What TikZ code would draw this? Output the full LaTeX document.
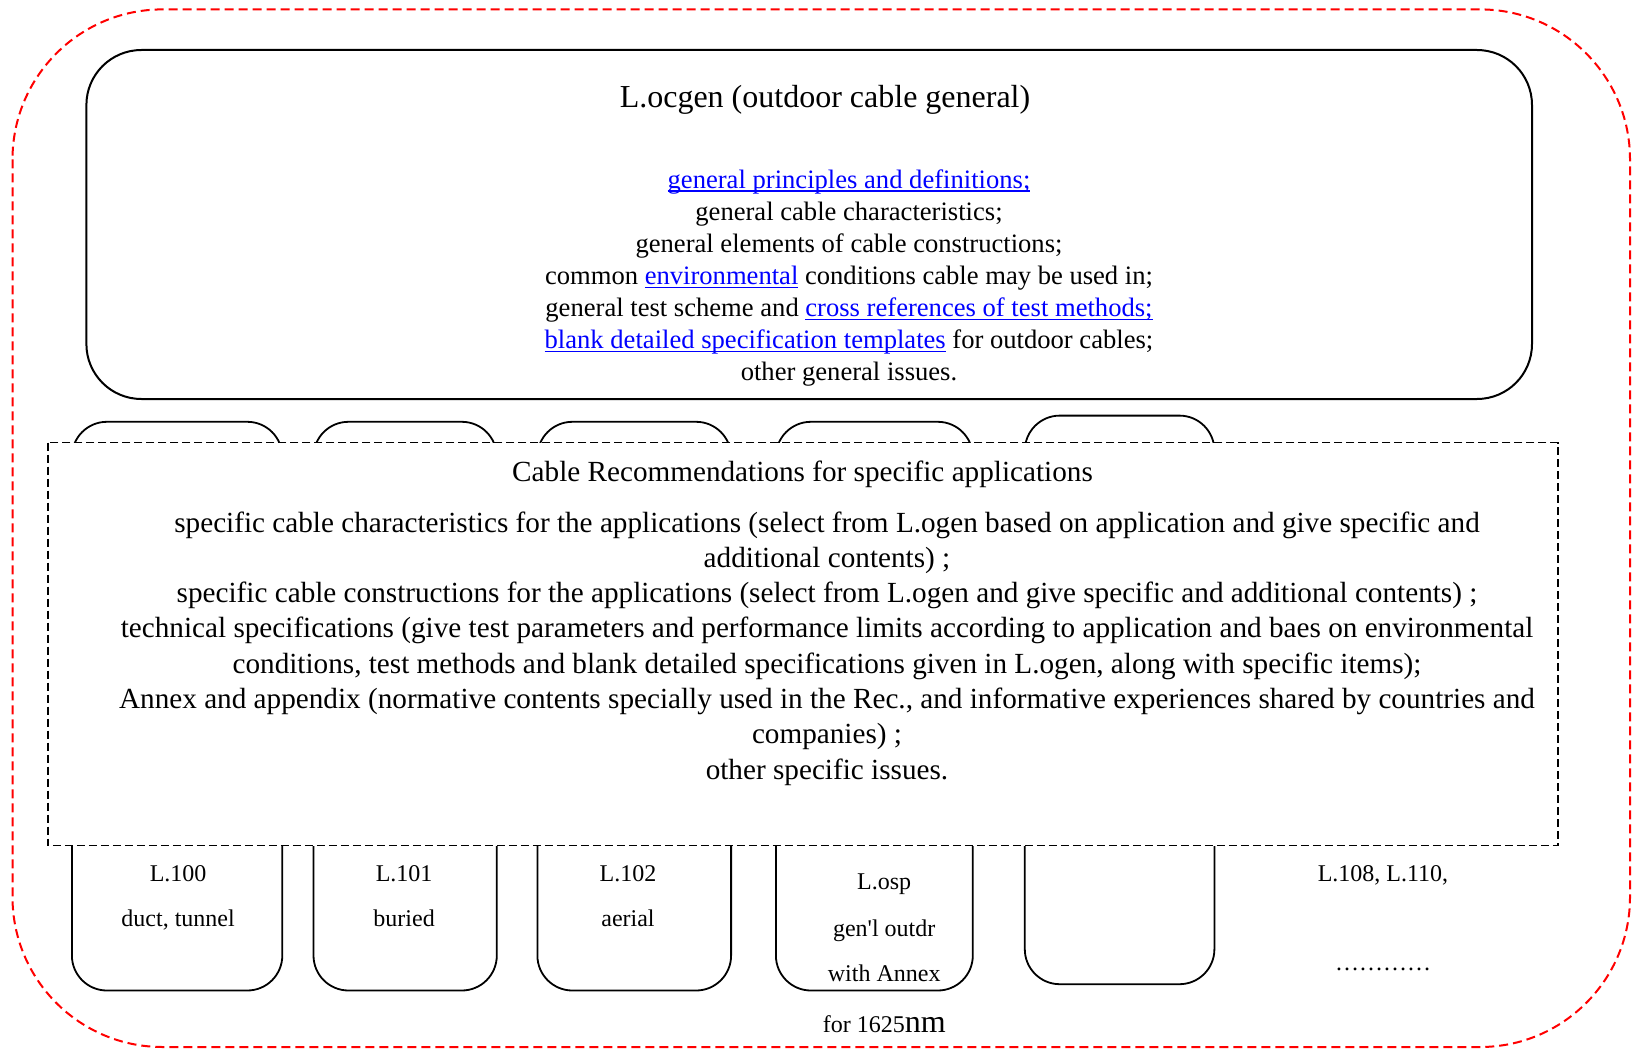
\documentclass[tikz,border=0pt]{standalone}
\usepackage{fontspec}
\setmainfont{Liberation Serif}[Ligatures=TeXOff]
\definecolor{linkblue}{RGB}{0,0,255}
\newsavebox{\linkbox}
\newcommand{\mylink}[1]{{\color{linkblue}\sbox{\linkbox}{#1}\rlap{\rule[-3.5pt]{\wd\linkbox}{1.2pt}}\usebox{\linkbox}}}
\begin{document}
\begin{tikzpicture}[x=1pt,y=-1pt,
  redframe/.style={draw=red, line width=2pt, dash pattern=on 9pt off 5pt, rounded corners=150pt},
  bigbox/.style={draw=black, line width=2pt, rounded corners=55pt},
  recbox/.style={draw=black, line width=1.8pt, rounded corners=35pt, fill=white},
  dashbox/.style={draw=black, line width=1.3pt, dash pattern=on 8pt off 4pt, fill=white},
  ttl/.style={anchor=base, inner sep=0pt, font=\fontsize{32}{38}\selectfont},
  ln/.style={anchor=base, inner sep=0pt, font=\fontsize{26.6}{32}\selectfont},
  rl/.style={anchor=base, inner sep=0pt, font=\fontsize{29.2}{35}\selectfont},
  sl/.style={anchor=base, inner sep=0pt, font=\fontsize{24}{29}\selectfont},
]
\useasboundingbox (0,0) rectangle (1633,1049);
% outer red frame
\draw[redframe] (12.5,9.4) rectangle (1630,1047);
% top general box
\draw[bigbox] (86.4,50) rectangle (1532,399);
\node[ttl] (ttop) at (825,107.5) {L.ocgen (outdoor cable general)};
\node[ln] (g1) at (849,188) {\mylink{general principles and definitions;}};
\node[ln] (g2) at (849,220.1) {general cable characteristics;};
\node[ln] (g3) at (849,252.2) {general elements of cable constructions;};
\node[ln] (g4) at (849,284.3) {common \mylink{environmental} conditions cable may be used in;};
\node[ln] (g5) at (849,316.4) {general test scheme and \mylink{cross references of test methods;}};
\node[ln] (g6) at (849,348.5) {\mylink{blank detailed specification templates} for outdoor cables;};
\node[ln] (g7) at (849,380.6) {other general issues.};
% application boxes (tabs)
\draw[recbox] (71.9,421.8) rectangle (282.3,990.5);
\draw[recbox] (313.5,421.8) rectangle (496.8,990.5);
\draw[recbox] (537.4,421.8) rectangle (731.1,990.5);
\draw[recbox] (775.9,421.8) rectangle (972.8,990.5);
\draw[recbox] (1024.8,415.6) rectangle (1214.4,984.2);
% dashed recommendation box
\draw[dashbox] (47.9,442.6) rectangle (1558,845.7);
\node[rl] (rtop) at (802.5,481.3) {Cable Recommendations for specific applications};
\node[rl] (r1) at (827,532) {specific cable characteristics for the applications (select from L.ogen based on application and give specific and};
\node[rl] (r2) at (827,567.3) {additional contents) ;};
\node[rl] (r3) at (827,602.6) {specific cable constructions for the applications (select from L.ogen and give specific and additional contents) ;};
\node[rl] (r4) at (827,637.9) {technical specifications (give test parameters and performance limits according to application and baes on environmental};
\node[rl] (r5) at (827,673.2) {conditions, test methods and blank detailed specifications given in L.ogen, along with specific items);};
\node[rl] (r6) at (827,708.5) {Annex and appendix (normative contents specially used in the Rec., and informative experiences shared by countries and};
\node[rl] (r7) at (827,743.8) {companies) ;};
\node[rl] (r8) at (827,779.1) {other specific issues.};
% box labels
\node[sl] (a1) at (178.1,881.3) {L.100};
\node[sl] (a2) at (178.1,926) {duct, tunnel};
\node[sl] (b1) at (404.1,881.3) {L.101};
\node[sl] (b2) at (404.1,926) {buried};
\node[sl] (c1) at (628,881.3) {L.102};
\node[sl] (c2) at (628,926) {aerial};
\node[sl] (d1) at (884.2,889.6) {L.osp};
\node[sl] (d2) at (884.2,936.5) {gen'l outdr};
\node[sl] (d3) at (884.2,981.3) {with Annex};
\node[sl] (d4) at (884.2,1032.3) {for 1625{\fontsize{32}{36}\selectfont nm}};
\node[sl] (e1) at (1383,881.3) {L.108, L.110,};
\node[sl] (e2) at (1383,970.5) {…………};
\end{tikzpicture}
\end{document}
